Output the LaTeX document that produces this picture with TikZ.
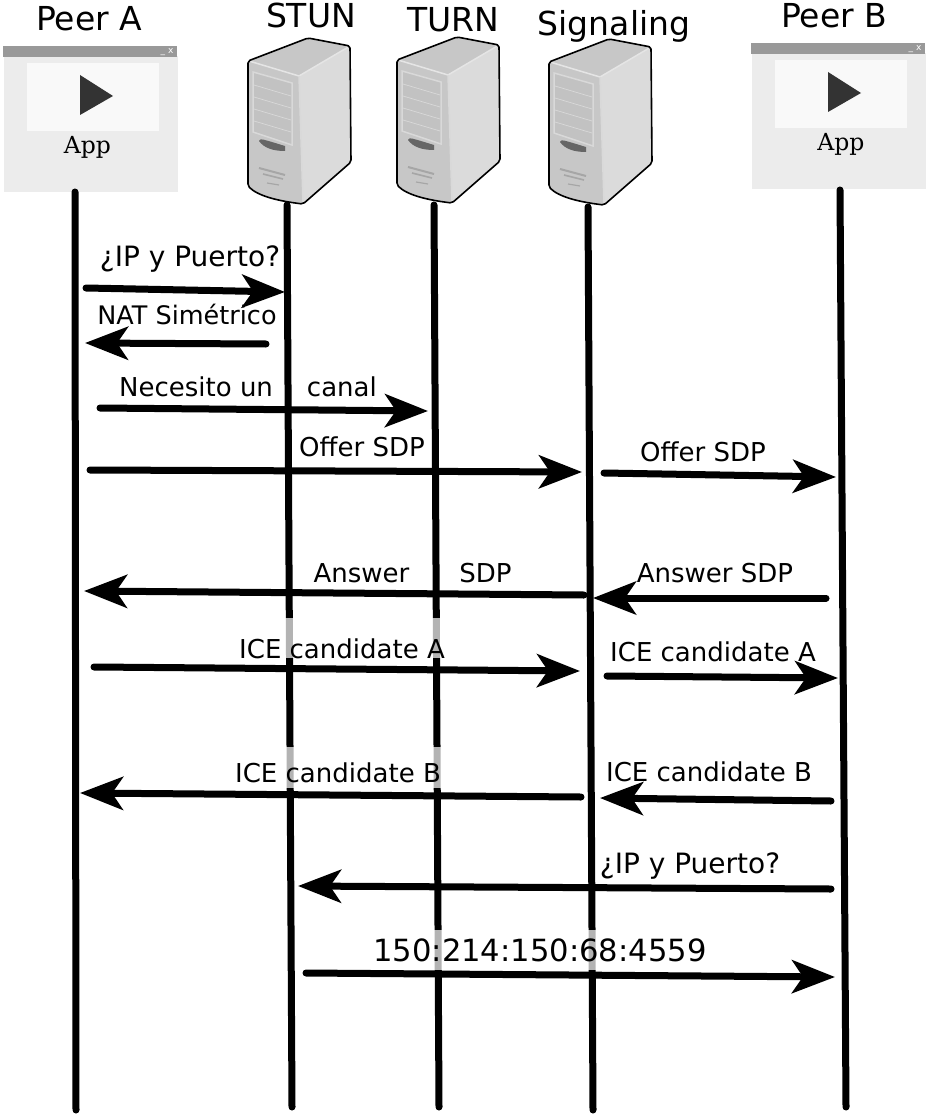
\documentclass[tikz,border=0pt]{standalone}
\usepackage{fontspec}
\setmainfont{DejaVu Sans}
\newfontfamily\appfont{DejaVu Serif}
\usetikzlibrary{arrows.meta}

\tikzset{
  appwindow/.pic={
    \fill[appbody] (1,10) rectangle (175,146);
    \fill[appbar] (0,0) rectangle (174,11);
    \fill[apppanel] (24,17) rectangle (156,85);
    \fill[appplay] (77,29) -- (110,50) -- (77,69) -- cycle;
    \node[font=\fontsize{9}{9}\selectfont, text=white, inner sep=0pt] at (164,6) {\_ x};
  },
  servericon/.pic={
    % side and top faces first, then the front
    \fill[srvside] (51,38) -- (102,8) -- (102,124) -- (55,166) -- cycle;
    \fill[srvfront] (1,23) -- (60,0) -- (102,8) -- (51,38) -- cycle;
    \fill[srvfront] (1,23) -- (51,38) -- (55,166) .. controls (30,163) and (10,158) .. (0,148) -- cycle;
    \draw[white!90!black, line width=1.5pt] (1,23) -- (51,38) -- (102,8);
    \draw[white!85!black, line width=1.5pt] (51,38) -- (55,165);
    % drive panel
    \fill[srvpanel, draw=white!85!black, line width=1.5pt] (5,34) -- (44,45) -- (44,107) -- (5,94) -- cycle;
    \foreach \h in {13,25,37,49}
      \draw[white!85!black, line width=.7pt] (6,34+\h) -- (43,45+\h);
    % slot and vents
    \fill[black!60] (11,103) .. controls (12,100) and (14,101) .. (37,108) -- (37,113) .. controls (25,113) and (16,110) .. cycle;
    \draw[black!35, line width=2pt] (11,130) -- (37,137);
    \draw[black!35, line width=1.6pt] (15,136) -- (35,141);
    \draw[black!35, line width=1.2pt] (19,145) -- (31,147);
    % outline
    \draw[black, line width=1.6pt, line join=round, rounded corners=2pt]
      (0,23) -- (60,0) -- (102,8) -- (103,124) -- (55,166) .. controls (30,163) and (10,158) .. (0,148) -- cycle;
  }
}

\begin{document}
\begin{tikzpicture}[
    x=1pt, y=-1pt,
    appbody/.style={fill=white!92.5!black},
    appbar/.style={fill=white!60!black},
    apppanel/.style={fill=white!97.5!black},
    appplay/.style={fill=white!20!black},
    srvside/.style={fill=white!86!black},
    srvfront/.style={fill=white!78!black},
    srvpanel/.style={fill=white!76!black},
    title/.style={font=\fontsize{33}{33}\selectfont, inner sep=0pt, anchor=base},
    lifeline/.style={line width=7pt, line cap=round},
    msg/.style={line width=7pt, line cap=round, -{Stealth[length=43pt, width=33pt, inset=11pt]}},
    msglabel/.style={inner sep=0pt, anchor=base},
    veil/.style={msglabel, fill=white, fill opacity=.7, text opacity=1}
  ]
    \useasboundingbox (0,0) rectangle (926,1115);

    \pic (appA) at (3,46) {appwindow};
    \pic (appB) at (751,43) {appwindow};
    \node[font=\appfont\fontsize{23.5}{23.5}\selectfont, inner sep=0pt] (appTextA) at (87.5,147) {App};
    \node[font=\appfont\fontsize{23.5}{23.5}\selectfont, inner sep=0pt] (appTextB) at (841,144) {App};

    \pic (srvSTUN) at (248,38) {servericon};
    \pic (srvTURN) at (397,37) {servericon};
    \pic (srvSignal) at (549,39) {servericon};

    \node[title] (peerA) at (89,31) {Peer A};
    \node[title] (stun) at (311,28) {STUN};
    \node[title] (turn) at (453,32) {TURN};
    \node[title] (signaling) at (614,36) {Signaling};
    \node[title] (peerB) at (834,28) {Peer B};

    % lifelines
    \foreach \n/\xa/\ya/\xb/\yb in {A/75/192/76/1110, S/287/205/292/1107, T/434/205/439/1107, G/588/207/593/1110, B/840/190/846/1107}{
      \coordinate (top\n) at (\xa,\ya);
      \coordinate (end\n) at (\xb,\yb);
      \draw[lifeline] (top\n) -- (end\n);
    }

    % labels whose box veils the lifelines behind them
    \foreach \n/\lx/\ly/\boxht/\boxdp/\fs/\txt in {
        iceA/342/658/40pt/0pt/26/ICE candidate A,
        iceB/338/782/35pt/6pt/26/ICE candidate B,
        addr/540/961/31pt/9pt/30.6/150:214:150:68:4559}{
      \node[veil, text height=\boxht, text depth=\boxdp, font=\fontsize{\fs}{\fs}\selectfont] (lab\n) at (\lx,\ly) {\txt};
    }

    % plain labels
    \foreach \n/\lx/\ly/\fs/\txt in {
        ipA/190/266/28/¿IP y Puerto?,
        nat/187/324/25.5/NAT Simétrico,
        canal/248/396/26/Necesito un\hspace{34pt}canal,
        offerA/362/456/26/Offer SDP,
        offerB/703/461/26/Offer SDP,
        answerA/412.5/582/26/Answer\hspace{50pt}SDP,
        answerB/715/582/26/Answer SDP,
        iceAb/713/661/26/ICE candidate A,
        iceBb/709/781/26/ICE candidate B,
        ipB/690/873/28/¿IP y Puerto?}{
      \node[msglabel, font=\fontsize{\fs}{\fs}\selectfont] (lab\n) at (\lx,\ly) {\txt};
    }

    % messages
    \foreach \n/\xa/\ya/\xb/\yb in {
        1/86/288/285/292, 2/266/344/85/343, 3/100/408/428/411,
        4/90/470/582/472, 5/604/473/836/477, 6/584/595/84/591,
        7/826/598/593/598, 8/94/667/580/671, 9/607/676/838/678,
        10/581/797/80/793, 11/831/801/600/798, 12/831/889/298/886,
        13/306/973/835/977}{
      \coordinate (from\n) at (\xa,\ya);
      \coordinate (to\n) at (\xb,\yb);
      \draw[msg] (from\n) -- (to\n);
    }
  \end{tikzpicture}
\end{document}
